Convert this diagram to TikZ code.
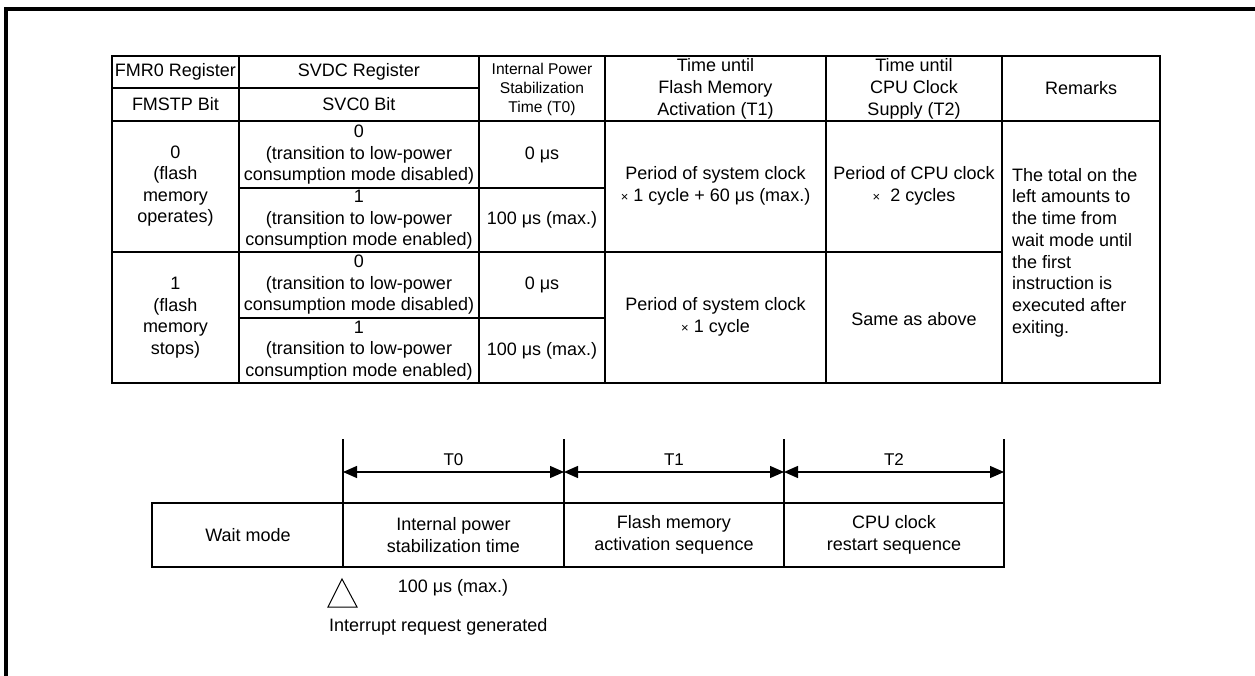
\documentclass[tikz,border=0pt]{standalone}
\usepackage{fontspec}
\setmainfont{Liberation Sans}
\usetikzlibrary{arrows.meta}
\begin{document}
\begin{tikzpicture}[x=1pt,y=-1pt,
  txt/.style={inner sep=0pt, align=center, font=\fontsize{18}{21.5}\selectfont},
  smalltxt/.style={inner sep=0pt, align=center, font=\fontsize{15.6}{19}\selectfont},
  hdtxt/.style={inner sep=0pt, align=center, font=\fontsize{18}{22}\selectfont},
  tlabel/.style={inner sep=0pt, font=\fontsize{17}{20}\selectfont},
  outerline/.style={line width=2.4pt},
  colline/.style={line width=1.6pt},
  rowline/.style={line width=1.2pt},
  thin/.style={line width=1.3pt},
  frameline/.style={line width=3.2pt},
  dim/.style={line width=1.3pt, {Triangle[length=14pt,width=12pt]}-{Triangle[length=14pt,width=12pt]}}
]
\newcommand{\mytimes}{{\fontsize{13}{13}\selectfont ×}}
\useasboundingbox (0,0) rectangle (1255,676);
% outer frame
\draw[frameline] (6,676) -- (6,9) -- (1255,9);

% table
\draw[colline] (239,56) -- (239,383);
\draw[colline] (479,56) -- (479,383);
\draw[colline] (605,56) -- (605,383);
\draw[colline] (826,56) -- (826,383);
\draw[colline] (1002,56) -- (1002,383);
\draw[rowline] (112,88) -- (479,88);
\draw[colline] (112,121) -- (1160,121);
\draw[rowline] (239,188) -- (605,188);
\draw[rowline] (112,252) -- (1002,252);
\draw[rowline] (239,318) -- (605,318);
\draw[outerline] (112,56) rectangle (1160,383);

% header
\node[txt] (h1a) at (175.5,72) {FMR0 Register};
\node[txt] (h1b) at (175.5,104.5) {FMSTP Bit};
\node[txt] (h2a) at (359,72) {SVDC Register};
\node[txt] (h2b) at (359,104.5) {SVC0 Bit};
\node[smalltxt] (h3) at (542,89) {Internal Power\\Stabilization\\Time (T0)};
\node[hdtxt] (h4) at (715.5,88.5) {Time until\\Flash Memory\\Activation (T1)};
\node[hdtxt] (h5) at (914,88.5) {Time until\\CPU Clock\\Supply (T2)};
\node[txt] (h6) at (1081,88.5) {Remarks};

% body column 1
\node[txt] (g1) at (175.5,186) {0\\(flash\\memory\\operates)};
\node[txt] (g2) at (175.5,317.5) {1\\(flash\\memory\\stops)};
% column 2
\node[txt] (s1) at (359,155) {0\\(transition to low-power\\consumption mode disabled)};
\node[txt] (s2) at (359,220) {1\\(transition to low-power\\consumption mode enabled)};
\node[txt] (s3) at (359,285) {0\\(transition to low-power\\consumption mode disabled)};
\node[txt] (s4) at (359,350.5) {1\\(transition to low-power\\consumption mode enabled)};
% column 3
\node[txt] (p1) at (542,155) {0 μs};
\node[txt] (p2) at (542,220) {100 μs (max.)};
\node[txt] (p3) at (542,285) {0 μs};
\node[txt] (p4) at (542,350.5) {100 μs (max.)};
% column 4
\node[txt] (f1) at (715.5,186) {Period of system clock\\\mytimes{} 1 cycle + 60 μs (max.)};
\node[txt] (f2) at (715.5,317) {Period of system clock\\\mytimes{} 1 cycle};
% column 5
\node[txt] (c1) at (914,186) {Period of CPU clock\\\mytimes{}\ \ 2 cycles};
\node[txt] (c2) at (914,319) {Same as above};
% column 6
\node[txt, align=left, anchor=west, font=\fontsize{18}{21.7}\selectfont] (rm) at (1012,252.5)
  {The total on the\\left amounts to\\the time from\\wait mode until\\the first\\instruction is\\executed after\\exiting.};

% timing diagram
\coordinate (v0t) at (343,439);
\coordinate (v1t) at (564,439);
\coordinate (v2t) at (784,439);
\coordinate (v3t) at (1004,439);
\coordinate (v0b) at (343,567);
\coordinate (v1b) at (564,567);
\coordinate (v2b) at (784,567);
\coordinate (v3b) at (1004,567);
\coordinate (a0) at (343,472);
\coordinate (a1) at (564,472);
\coordinate (a2) at (784,472);
\coordinate (a3) at (1004,472);
\draw[thin] (152,503) rectangle (1004,567);
\draw[thin] (v0t) -- (v0b);
\draw[thin] (v1t) -- (v1b);
\draw[thin] (v2t) -- (v2b);
\draw[thin] (v3t) -- (v3b);
\draw[dim] (a0) -- (a1);
\draw[dim] (a1) -- (a2);
\draw[dim] (a2) -- (a3);
\node[tlabel] (t0) at (453.5,460) {T0};
\node[tlabel] (t1) at (674,460) {T1};
\node[tlabel] (t2) at (894,460) {T2};

\node[txt] (wm) at (248,535) {Wait mode};
\node[txt, font=\fontsize{18}{22.5}\selectfont] (ip) at (453.5,535) {Internal power\\stabilization time};
\node[txt, font=\fontsize{18}{22.5}\selectfont] (fm) at (674,535) {Flash memory\\activation sequence};
\node[txt, font=\fontsize{18}{22.5}\selectfont] (cc) at (894,535) {CPU clock\\restart sequence};

\coordinate (tri1) at (342,579);
\coordinate (tri2) at (357,607);
\coordinate (tri3) at (328,607);
\draw[line width=1pt, line join=miter] (tri1) -- (tri2) -- (tri3) -- cycle;
\node[txt] (mx) at (453,588) {100 μs (max.)};
\node[txt, anchor=west] (ir) at (329,627) {Interrupt request generated};
\end{tikzpicture}
\end{document}
